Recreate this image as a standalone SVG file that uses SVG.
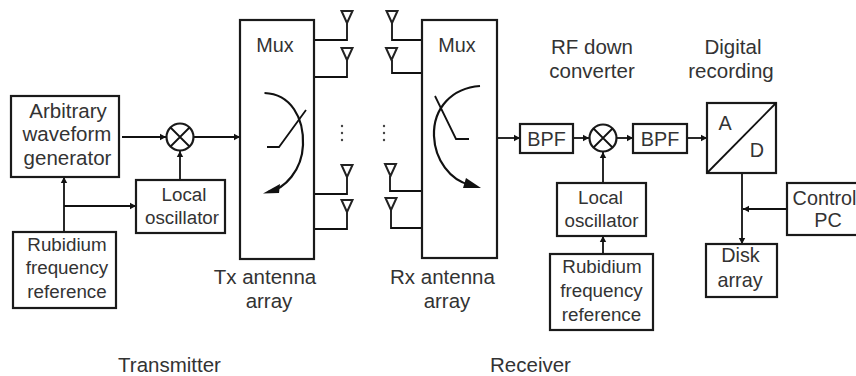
<svg xmlns="http://www.w3.org/2000/svg" width="856" height="376" viewBox="0 0 856 376">
<style>
text{font-family:"Liberation Sans",Arial,sans-serif;font-size:20.500px;fill:#333;text-anchor:middle}
text.s{font-size:18.800px}
text.m{font-size:19.800px}
.b{fill:#fff;stroke:#1a1a1a;stroke-width:2.200}
.l{fill:none;stroke:#111;stroke-width:1.800}
.a{fill:none;stroke:#111;stroke-width:1.800;marker-end:url(#m)}
.t{fill:#fff;stroke:#222;stroke-width:2}
.c{fill:none;stroke:#111;stroke-width:2.200}
.d{fill:#444}
</style>
<defs>
<marker id="m" markerUnits="userSpaceOnUse" markerWidth="7" markerHeight="8" refX="6" refY="4" orient="auto"><path d="M0,0.800L6,4L0,7.200z" fill="#111"/></marker>
<path id="ant" d="M-5.500,0H5.500L0,12z" class="t"/>
</defs>
<rect width="856" height="376" fill="#fff"/>
<g id="connectors">
<path class="a" d="M122,137H166"/>
<path class="a" d="M180,180V151"/>
<path class="a" d="M194,137H240"/>
<path class="a" d="M64,232V177"/>
<path class="a" d="M64,206H136"/>
<path class="l" d="M314,40H347V23M314,77H347V60M314,194H347V176M314,229H347V212"/>
<path class="l" d="M422,40H392V23M422,73H392V60M422,191H390V176M422,228H391V210"/>
<path class="a" d="M497,138H520"/>
<path class="a" d="M573,138H589"/>
<path class="a" d="M617,138H633"/>
<path class="a" d="M687,138H707"/>
<path class="a" d="M603,183V152"/>
<path class="a" d="M603,254V236"/>
<path class="a" d="M742,173V244"/>
<path class="a" d="M787,209H743"/>
</g>
<g id="awg"><rect class="b" x="11" y="96" width="108" height="81"/><text x="68" y="118">Arbitrary</text><text x="67" y="141">waveform</text><text x="67.500" y="165">generator</text></g>
<g id="tx-mixer"><circle class="b" cx="180" cy="137" r="13.500"/><path class="l" d="M170.500,127.500L189.500,146.500M189.500,127.500L170.500,146.500"/></g>
<g id="tx-lo"><rect class="b" x="136" y="180" width="89" height="53"/><text class="s" x="184" y="201">Local</text><text class="s" x="182" y="224">oscillator</text></g>
<g id="tx-rb"><rect class="b" x="13" y="232" width="103" height="76"/><text class="s" x="67" y="251">Rubidium</text><text class="s" x="67" y="274">frequency</text><text class="s" x="67" y="298">reference</text></g>
<g id="tx-mux"><rect class="b" x="240" y="20" width="74" height="239"/><text class="m" x="275" y="52">Mux</text>
<path class="c" d="M264.500,93C291,94 304,118 303,145C302,170 285,189 268,192"/><path d="M263,193.500L280,184L279,193z" fill="#111"/>
<path class="l" d="M267,147H279L306,110"/></g>
<g id="tx-ant-1"><use href="#ant" x="347" y="11"/></g>
<g id="tx-ant-2"><use href="#ant" x="347" y="48"/></g>
<g id="tx-ant-3"><use href="#ant" x="347" y="165"/></g>
<g id="tx-ant-4"><use href="#ant" x="347" y="200"/></g>
<g id="tx-dots"><circle class="d" cx="342" cy="126" r="1.200"/><circle class="d" cx="342" cy="133" r="1.200"/><circle class="d" cx="342" cy="140" r="1.200"/></g>
<g id="rx-dots"><circle class="d" cx="384" cy="126" r="1.200"/><circle class="d" cx="384" cy="133" r="1.200"/><circle class="d" cx="384" cy="140" r="1.200"/></g>
<g id="rx-ant-1"><use href="#ant" x="392" y="11"/></g>
<g id="rx-ant-2"><use href="#ant" x="391.500" y="48"/></g>
<g id="rx-ant-3"><use href="#ant" x="390.500" y="164"/></g>
<g id="rx-ant-4"><use href="#ant" x="391" y="198"/></g>
<g id="rx-mux"><rect class="b" x="422" y="20" width="75" height="238"/><text class="m" x="457" y="52">Mux</text>
<path class="c" d="M480,86C452,88 433,108 434,136C435,160 450,180 470,185"/><path d="M481,188L463,188L466,178z" fill="#111"/>
<path class="l" d="M435,96L456,139H469"/></g>
<g id="bpf-1"><rect class="b" x="520" y="124" width="53" height="29"/><text class="m" x="546.500" y="146">BPF</text></g>
<g id="rx-mixer"><circle class="b" cx="603" cy="138" r="13.500"/><path class="l" d="M593.500,128.500L612.500,147.500M612.500,128.500L593.500,147.500"/></g>
<g id="bpf-2"><rect class="b" x="633" y="124" width="54" height="29"/><text class="m" x="660" y="146">BPF</text></g>
<g id="adc"><rect class="b" x="707" y="103" width="69" height="70"/><path class="l" d="M707,173L776,103"/><text class="m" x="725" y="130">A</text><text class="m" x="757" y="157">D</text></g>
<g id="rx-lo"><rect class="b" x="557" y="183" width="89" height="53"/><text class="s" x="600.500" y="204">Local</text><text class="s" x="601.500" y="227">oscillator</text></g>
<g id="rx-rb"><rect class="b" x="550" y="254" width="103" height="76"/><text class="s" x="602" y="273">Rubidium</text><text class="s" x="601.500" y="297">frequency</text><text class="s" x="601.500" y="321">reference</text></g>
<g id="control"><rect class="b" x="787" y="183" width="72" height="52"/><text class="m" x="824.500" y="205">Control</text><text class="m" x="828" y="227">PC</text></g>
<g id="disk"><rect class="b" x="706" y="244" width="71" height="53"/><text class="m" x="740.500" y="262">Disk</text><text class="m" x="740" y="287">array</text></g>
<g id="labels">
<text x="265" y="284">Tx antenna</text><text x="269" y="308">array</text>
<text x="442.500" y="284">Rx antenna</text><text x="447" y="308">array</text>
<text x="592" y="54">RF down</text><text x="592" y="78">converter</text>
<text x="733" y="54">Digital</text><text x="731" y="78">recording</text>
<text x="169.500" y="372">Transmitter</text><text x="530.500" y="372">Receiver</text>
</g>
</svg>
